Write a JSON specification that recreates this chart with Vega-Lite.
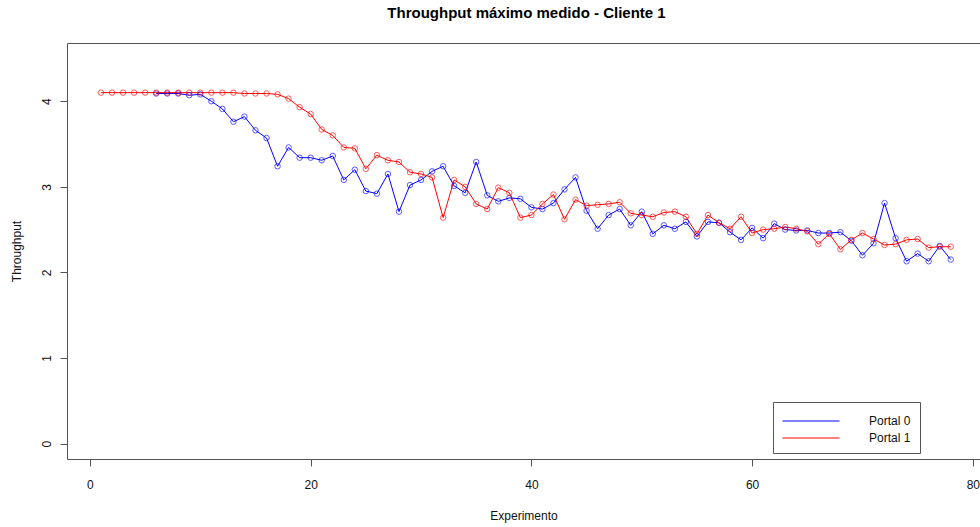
{
  "$schema": "https://vega.github.io/schema/vega-lite/v6.json",
  "width": 913,
  "height": 416,
  "autosize": {"type": "none"},
  "padding": {"left": 67, "top": 43, "right": 0, "bottom": 68},
  "background": "white",
  "title": {"text": "Throughput máximo medido - Cliente 1", "font": "Liberation Sans", "fontSize": 15, "fontWeight": "bold", "color": "#000", "offset": 22, "dx": 3},
  "config": {
    "view": {"stroke": null},
    "font": "Liberation Sans",
    "axis": {"grid": false, "domainColor": "#555", "tickColor": "#555", "labelColor": "#111", "titleColor": "#111", "labelFont": "Liberation Sans", "titleFont": "Liberation Sans", "labelFontSize": 12, "titleFontSize": 12, "titleFontWeight": "normal", "tickSize": 7}
  },
  "data": {"values": [
    {"e":6,"s":"Portal 0","v":4.09},{"e":7,"s":"Portal 0","v":4.09},{"e":8,"s":"Portal 0","v":4.09},{"e":9,"s":"Portal 0","v":4.07},{"e":10,"s":"Portal 0","v":4.08},
    {"e":11,"s":"Portal 0","v":4.00},{"e":12,"s":"Portal 0","v":3.91},{"e":13,"s":"Portal 0","v":3.76},{"e":14,"s":"Portal 0","v":3.82},{"e":15,"s":"Portal 0","v":3.66},
    {"e":16,"s":"Portal 0","v":3.57},{"e":17,"s":"Portal 0","v":3.24},{"e":18,"s":"Portal 0","v":3.46},{"e":19,"s":"Portal 0","v":3.34},{"e":20,"s":"Portal 0","v":3.34},
    {"e":21,"s":"Portal 0","v":3.31},{"e":22,"s":"Portal 0","v":3.36},{"e":23,"s":"Portal 0","v":3.08},{"e":24,"s":"Portal 0","v":3.20},{"e":25,"s":"Portal 0","v":2.95},
    {"e":26,"s":"Portal 0","v":2.92},{"e":27,"s":"Portal 0","v":3.15},{"e":28,"s":"Portal 0","v":2.71},{"e":29,"s":"Portal 0","v":3.02},{"e":30,"s":"Portal 0","v":3.08},
    {"e":31,"s":"Portal 0","v":3.18},{"e":32,"s":"Portal 0","v":3.24},{"e":33,"s":"Portal 0","v":3.01},{"e":34,"s":"Portal 0","v":2.93},{"e":35,"s":"Portal 0","v":3.29},
    {"e":36,"s":"Portal 0","v":2.90},{"e":37,"s":"Portal 0","v":2.83},{"e":38,"s":"Portal 0","v":2.87},{"e":39,"s":"Portal 0","v":2.86},{"e":40,"s":"Portal 0","v":2.76},
    {"e":41,"s":"Portal 0","v":2.74},{"e":42,"s":"Portal 0","v":2.81},{"e":43,"s":"Portal 0","v":2.97},{"e":44,"s":"Portal 0","v":3.11},{"e":45,"s":"Portal 0","v":2.72},
    {"e":46,"s":"Portal 0","v":2.51},{"e":47,"s":"Portal 0","v":2.67},{"e":48,"s":"Portal 0","v":2.74},{"e":49,"s":"Portal 0","v":2.55},{"e":50,"s":"Portal 0","v":2.71},
    {"e":51,"s":"Portal 0","v":2.45},{"e":52,"s":"Portal 0","v":2.55},{"e":53,"s":"Portal 0","v":2.51},{"e":54,"s":"Portal 0","v":2.59},{"e":55,"s":"Portal 0","v":2.42},
    {"e":56,"s":"Portal 0","v":2.59},{"e":57,"s":"Portal 0","v":2.58},{"e":58,"s":"Portal 0","v":2.47},{"e":59,"s":"Portal 0","v":2.38},{"e":60,"s":"Portal 0","v":2.52},
    {"e":61,"s":"Portal 0","v":2.40},{"e":62,"s":"Portal 0","v":2.57},{"e":63,"s":"Portal 0","v":2.50},{"e":64,"s":"Portal 0","v":2.49},{"e":65,"s":"Portal 0","v":2.49},
    {"e":66,"s":"Portal 0","v":2.46},{"e":67,"s":"Portal 0","v":2.46},{"e":68,"s":"Portal 0","v":2.47},{"e":69,"s":"Portal 0","v":2.37},{"e":70,"s":"Portal 0","v":2.20},
    {"e":71,"s":"Portal 0","v":2.34},{"e":72,"s":"Portal 0","v":2.81},{"e":73,"s":"Portal 0","v":2.40},{"e":74,"s":"Portal 0","v":2.13},{"e":75,"s":"Portal 0","v":2.22},
    {"e":76,"s":"Portal 0","v":2.13},{"e":77,"s":"Portal 0","v":2.31},{"e":78,"s":"Portal 0","v":2.15},
    {"e":1,"s":"Portal 1","v":4.10},{"e":2,"s":"Portal 1","v":4.10},{"e":3,"s":"Portal 1","v":4.10},{"e":4,"s":"Portal 1","v":4.10},{"e":5,"s":"Portal 1","v":4.10},
    {"e":6,"s":"Portal 1","v":4.10},{"e":7,"s":"Portal 1","v":4.10},{"e":8,"s":"Portal 1","v":4.10},{"e":9,"s":"Portal 1","v":4.10},{"e":10,"s":"Portal 1","v":4.10},
    {"e":11,"s":"Portal 1","v":4.10},{"e":12,"s":"Portal 1","v":4.10},{"e":13,"s":"Portal 1","v":4.10},{"e":14,"s":"Portal 1","v":4.09},{"e":15,"s":"Portal 1","v":4.09},
    {"e":16,"s":"Portal 1","v":4.09},{"e":17,"s":"Portal 1","v":4.08},{"e":18,"s":"Portal 1","v":4.03},{"e":19,"s":"Portal 1","v":3.93},{"e":20,"s":"Portal 1","v":3.85},
    {"e":21,"s":"Portal 1","v":3.67},{"e":22,"s":"Portal 1","v":3.60},{"e":23,"s":"Portal 1","v":3.46},{"e":24,"s":"Portal 1","v":3.45},{"e":25,"s":"Portal 1","v":3.21},
    {"e":26,"s":"Portal 1","v":3.37},{"e":27,"s":"Portal 1","v":3.31},{"e":28,"s":"Portal 1","v":3.29},{"e":29,"s":"Portal 1","v":3.17},{"e":30,"s":"Portal 1","v":3.15},
    {"e":31,"s":"Portal 1","v":3.11},{"e":32,"s":"Portal 1","v":2.64},{"e":33,"s":"Portal 1","v":3.08},{"e":34,"s":"Portal 1","v":3.00},{"e":35,"s":"Portal 1","v":2.80},
    {"e":36,"s":"Portal 1","v":2.74},{"e":37,"s":"Portal 1","v":2.99},{"e":38,"s":"Portal 1","v":2.93},{"e":39,"s":"Portal 1","v":2.64},{"e":40,"s":"Portal 1","v":2.67},
    {"e":41,"s":"Portal 1","v":2.80},{"e":42,"s":"Portal 1","v":2.91},{"e":43,"s":"Portal 1","v":2.62},{"e":44,"s":"Portal 1","v":2.85},{"e":45,"s":"Portal 1","v":2.78},
    {"e":46,"s":"Portal 1","v":2.79},{"e":47,"s":"Portal 1","v":2.80},{"e":48,"s":"Portal 1","v":2.82},{"e":49,"s":"Portal 1","v":2.69},{"e":50,"s":"Portal 1","v":2.67},
    {"e":51,"s":"Portal 1","v":2.65},{"e":52,"s":"Portal 1","v":2.70},{"e":53,"s":"Portal 1","v":2.71},{"e":54,"s":"Portal 1","v":2.65},{"e":55,"s":"Portal 1","v":2.45},
    {"e":56,"s":"Portal 1","v":2.67},{"e":57,"s":"Portal 1","v":2.58},{"e":58,"s":"Portal 1","v":2.51},{"e":59,"s":"Portal 1","v":2.65},{"e":60,"s":"Portal 1","v":2.46},
    {"e":61,"s":"Portal 1","v":2.50},{"e":62,"s":"Portal 1","v":2.51},{"e":63,"s":"Portal 1","v":2.53},{"e":64,"s":"Portal 1","v":2.51},{"e":65,"s":"Portal 1","v":2.48},
    {"e":66,"s":"Portal 1","v":2.33},{"e":67,"s":"Portal 1","v":2.45},{"e":68,"s":"Portal 1","v":2.27},{"e":69,"s":"Portal 1","v":2.38},{"e":70,"s":"Portal 1","v":2.46},
    {"e":71,"s":"Portal 1","v":2.39},{"e":72,"s":"Portal 1","v":2.32},{"e":73,"s":"Portal 1","v":2.33},{"e":74,"s":"Portal 1","v":2.38},{"e":75,"s":"Portal 1","v":2.39},
    {"e":76,"s":"Portal 1","v":2.29},{"e":77,"s":"Portal 1","v":2.30},{"e":78,"s":"Portal 1","v":2.30}
  ]},
  "encoding": {
    "y": {"field": "v", "type": "quantitative",
      "scale": {"domain": [-0.18, 4.68], "nice": false, "zero": false},
      "axis": {"values": [0, 1, 2, 3, 4], "labelAngle": -90, "labelPadding": 7, "title": "Throughput", "titlePadding": 17}},
    "color": {"field": "s", "type": "nominal",
      "scale": {"domain": ["Portal 0", "Portal 1"], "range": ["#0000ff", "#ff0000"]},
      "legend": {"orient": "none", "legendX": 706, "legendY": 359, "title": null, "symbolType": "M-3,0H3", "symbolSize": 361, "symbolOffset": 19, "symbolStrokeWidth": 1, "symbolOpacity": 1, "rowPadding": 1, "labelOffset": 48, "labelFontSize": 12, "labelFont": "Liberation Sans", "labelColor": "#111", "labelLimit": 300, "padding": 9, "strokeColor": "#555", "fillColor": "white", "labelExpr": "datum.label + '\u00a0\u00a0\u00a0\u00a0\u00a0\u00a0\u00a0\u00a0\u00a0\u00a0\u00a0\u00a0\u00a0\u00a0\u00a0\u00a0\u00a0\u00a0\u00a0\u00a0\u00a0\u00a0\u00a0\u00a0\u00a0\u00a0\u00a0\u00a0'"}}
  },
  "layer": [
    {
      "mark": {"type": "line", "strokeWidth": 1},
      "encoding": {
        "x": {"field": "e", "type": "quantitative",
          "scale": {"domain": [-2.08, 80.65], "nice": false, "zero": false},
          "axis": {"values": [0, 20, 40, 60, 80], "labelPadding": 13, "title": "Experimento", "titlePadding": 20}}
      }
    },
    {
      "mark": {"type": "point", "filled": false, "size": 30, "strokeWidth": 1, "opacity": 0.65},
      "encoding": {
        "x": {"field": "e", "type": "quantitative",
          "axis": {"orient": "top", "labels": false, "ticks": false, "title": null, "domain": true}}
      }
    }
  ],
  "resolve": {"axis": {"x": "independent"}}
}
